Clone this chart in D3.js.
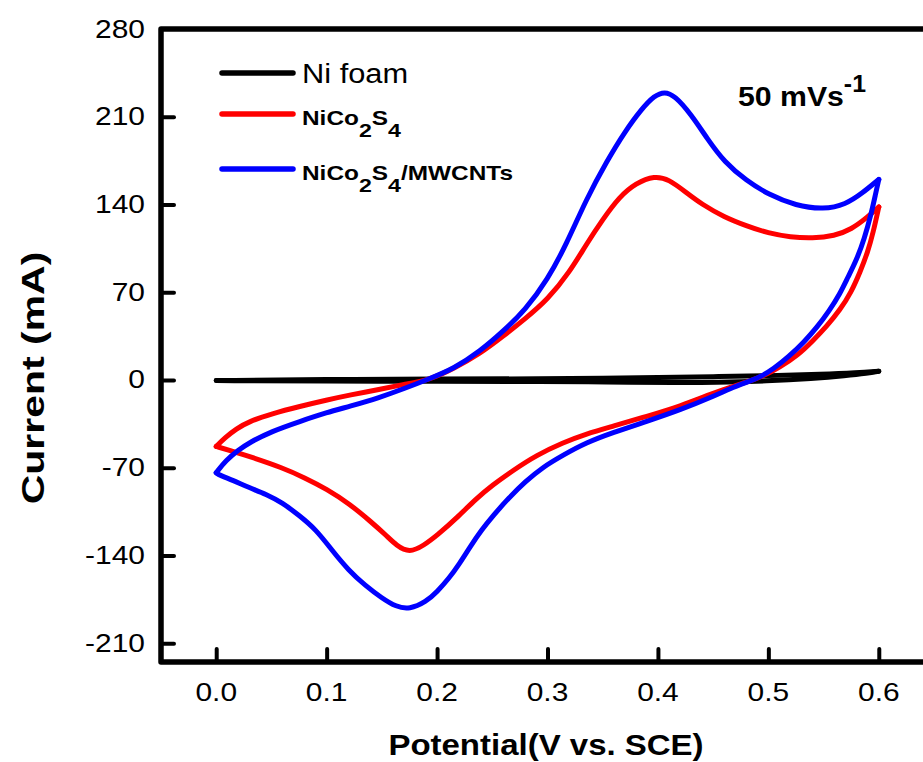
<!DOCTYPE html>
<html>
<head>
<meta charset="utf-8">
<script src="https://cdn.jsdelivr.net/npm/d3@7/dist/d3.min.js"></script>
<style>
  body { margin: 0; background: #fff; }
  text { font-family: "Liberation Sans", Arial, sans-serif; fill: #000; }
</style>
</head>
<body>
<svg id="chart" width="923" height="762"></svg>
<script>
// Axis ticks
const xTicks = [0.0, 0.1, 0.2, 0.3, 0.4, 0.5, 0.6];
const yTicks = [-210, -140, -70, 0, 70, 140, 210, 280];
const xLabel = "Potential(V vs. SCE)";
const yLabel = "Current (mA)";
const scanRate = "50 mVs";

// Cyclic voltammograms [potential (V), current (mA)]
// anodic sweep 0 -> 0.6 V, cathodic sweep 0.6 -> 0 V
const niFoamAnodic = [[0, -0.5], [0.1, 0.4], [0.2, 0.7], [0.3, 0.9], [0.35, 1.4], [0.4, 2], [0.45, 2.6],
  [0.5, 3.4], [0.55, 4.6], [0.58, 5.8], [0.6, 7]];
const niFoamCathodic = [[0.6, 7], [0.59, 5.4], [0.57, 3.4], [0.54, 1.2], [0.5, -0.8], [0.45, -2], [0.42, -2.2],
  [0.35, -1.5], [0.3, -1.2], [0.2, -1], [0.1, -1], [0, -0.5]];

const nicoAnodic = [[0, -53], [0.008, -46], [0.018, -39], [0.03, -33], [0.05, -27], [0.076, -21],
  [0.1, -16], [0.121, -12], [0.148, -7.5], [0.17, -3.5], [0.193, 0], [0.215, 9], [0.239, 21],
  [0.26, 35], [0.28, 49], [0.3, 64], [0.32, 86], [0.335, 108], [0.35, 128], [0.365, 146],
  [0.38, 157], [0.397, 163], [0.41, 160], [0.425, 150], [0.44, 140], [0.46, 130], [0.48, 123],
  [0.5, 117], [0.52, 114], [0.54, 113], [0.56, 115], [0.575, 120], [0.59, 130], [0.6, 138]];
const nicoCathodic = [[0.6, 138], [0.595, 118], [0.59, 102], [0.583, 86], [0.575, 70], [0.565, 56],
  [0.553, 43], [0.54, 31], [0.527, 20], [0.51, 10], [0.495, 3], [0.483, -1], [0.465, -6],
  [0.45, -10.5], [0.42, -21], [0.39, -29], [0.359, -37], [0.335, -43], [0.314, -50], [0.29, -60],
  [0.269, -72], [0.25, -84], [0.235, -95], [0.218, -110], [0.2, -124], [0.188, -132], [0.175, -138],
  [0.163, -132], [0.154, -124], [0.14, -113], [0.121, -99], [0.1, -87], [0.08, -78], [0.06, -70],
  [0.03, -61], [0.015, -57], [0, -53]];

const compositeAnodic = [[0, -74], [0.009, -64], [0.02, -56], [0.03, -50], [0.05, -41], [0.076, -33],
  [0.1, -26], [0.121, -21], [0.148, -14], [0.17, -7], [0.193, 1], [0.215, 9], [0.239, 23],
  [0.26, 39], [0.28, 56], [0.3, 80], [0.317, 108], [0.335, 144], [0.354, 175], [0.37, 198],
  [0.385, 216], [0.397, 227], [0.406, 230], [0.415, 227], [0.43, 212], [0.445, 192], [0.46, 174],
  [0.48, 159], [0.5, 148], [0.525, 139], [0.55, 136], [0.57, 140], [0.585, 149], [0.6, 160]];
const compositeCathodic = [[0.6, 160], [0.597, 148], [0.593, 132], [0.587, 113], [0.58, 96],
  [0.572, 82], [0.565, 69], [0.555, 55], [0.544, 42], [0.532, 30], [0.519, 19], [0.505, 9],
  [0.492, 2], [0.48, -2], [0.465, -7], [0.453, -12], [0.42, -24], [0.39, -33], [0.359, -42],
  [0.335, -50], [0.314, -60], [0.295, -70], [0.28, -81], [0.265, -94], [0.251, -108], [0.24, -120],
  [0.23, -133], [0.22, -147], [0.211, -158], [0.2, -169], [0.19, -177], [0.175, -183],
  [0.163, -181], [0.15, -174], [0.135, -164], [0.12, -152], [0.105, -136], [0.09, -119],
  [0.075, -108], [0.06, -98], [0.045, -91], [0.03, -86], [0.015, -80], [0.003, -76], [0, -74]];

const series = [
  { key: "ni", color: "#000000", branches: [niFoamAnodic, niFoamCathodic] },
  { key: "nico", color: "#ff0000", branches: [nicoAnodic, nicoCathodic] },
  { key: "comp", color: "#0000ff", branches: [compositeAnodic, compositeCathodic] }
];

const svg = d3.select("#chart");
const plotLeft = 161, plotTop = 29, plotBottom = 662, plotRight = 934;

const x = d3.scaleLinear().domain([-0.05, 0.65]).range([plotLeft, plotRight]);
const y = d3.scaleLinear().domain([-225, 280]).range([plotBottom, plotTop]);

// text drawn with a slight horizontal stretch
function label(g, px, py, str, size, opts = {}) {
  return g.append("text")
    .attr("transform", `translate(${px},${py}) scale(${opts.sx || 1.12},1)`)
    .attr("font-size", size)
    .attr("font-weight", opts.bold ? "bold" : "normal")
    .attr("text-anchor", opts.anchor || "start")
    .text(str);
}

// curves: one smooth path per sweep, so the turning points stay sharp
const line = d3.line().x(d => x(d[0])).y(d => y(d[1])).curve(d3.curveBasis);
const curves = svg.append("g");
series.forEach(s => {
  s.branches.forEach(b => {
    curves.append("path")
      .attr("d", line(b))
      .attr("fill", "none")
      .attr("stroke", s.color)
      .attr("stroke-width", 5)
      .attr("stroke-linejoin", "round")
      .attr("stroke-linecap", "round");
  });
});

// axes (inward ticks)
const yAxis = svg.append("g").attr("transform", `translate(${plotLeft},0)`)
  .call(d3.axisLeft(y).tickValues(yTicks.filter(v => v < 280)).tickSize(-13).tickFormat(""));
const xAxis = svg.append("g").attr("transform", `translate(0,${plotBottom})`)
  .call(d3.axisBottom(x).tickValues(xTicks).tickSize(-13).tickFormat(""));
[yAxis, xAxis].forEach(a => {
  a.select(".domain").remove();
  a.selectAll(".tick line").attr("stroke", "#000").attr("stroke-width", 4).attr("stroke-linecap", "round");
});

// frame
svg.append("path")
  .attr("d", `M${plotRight},${plotTop}H${plotLeft}V${plotBottom}H${plotRight}`)
  .attr("fill", "none").attr("stroke", "#000").attr("stroke-width", 5.5)
  .attr("stroke-linejoin", "round");

// tick labels
const labels = svg.append("g");
yTicks.forEach(v => label(labels, 145, y(v) + 8.5, String(v), 26.5, { anchor: "end", sx: 1.13 }));
xTicks.forEach(v => label(labels, x(v), 701, d3.format(".1f")(v), 26.5, { anchor: "middle", sx: 1.13 }));

// axis titles
label(labels, 546, 755, xLabel, 30, { anchor: "middle", bold: true, sx: 1.1 });
labels.append("text")
  .attr("transform", `translate(44,378) rotate(-90) scale(1.28,1)`)
  .attr("font-size", 32).attr("font-weight", "bold").attr("text-anchor", "middle")
  .text(yLabel);

// scan rate annotation
const sr = label(labels, 738, 106, scanRate, 28, { bold: true, sx: 1.08 });
sr.append("tspan").attr("dy", -14).attr("font-size", 23).text("-1");

// legend
const legend = svg.append("g");
const legendRows = [
  { color: "#000000", y: 73 },
  { color: "#ff0000", y: 114 },
  { color: "#0000ff", y: 169 }
];
legendRows.forEach(r => {
  legend.append("line").attr("x1", 222).attr("x2", 293).attr("y1", r.y).attr("y2", r.y)
    .attr("stroke", r.color).attr("stroke-width", 5.5).attr("stroke-linecap", "round");
});
label(legend, 302, 83, "Ni foam", 28, { sx: 1.1 });

function formula(py, suffix) {
  const t = label(legend, 302, py, "", 20, { bold: true, sx: 1.22 });
  t.append("tspan").text("NiCo");
  t.append("tspan").attr("font-size", 19).attr("dy", 12).text("2");
  t.append("tspan").attr("dy", -12).text("S");
  t.append("tspan").attr("font-size", 19).attr("dy", 12).text("4");
  if (suffix) t.append("tspan").attr("dy", -12).text(suffix);
}
formula(125, "");
formula(180, "/MWCNTs");
</script>
</body>
</html>
